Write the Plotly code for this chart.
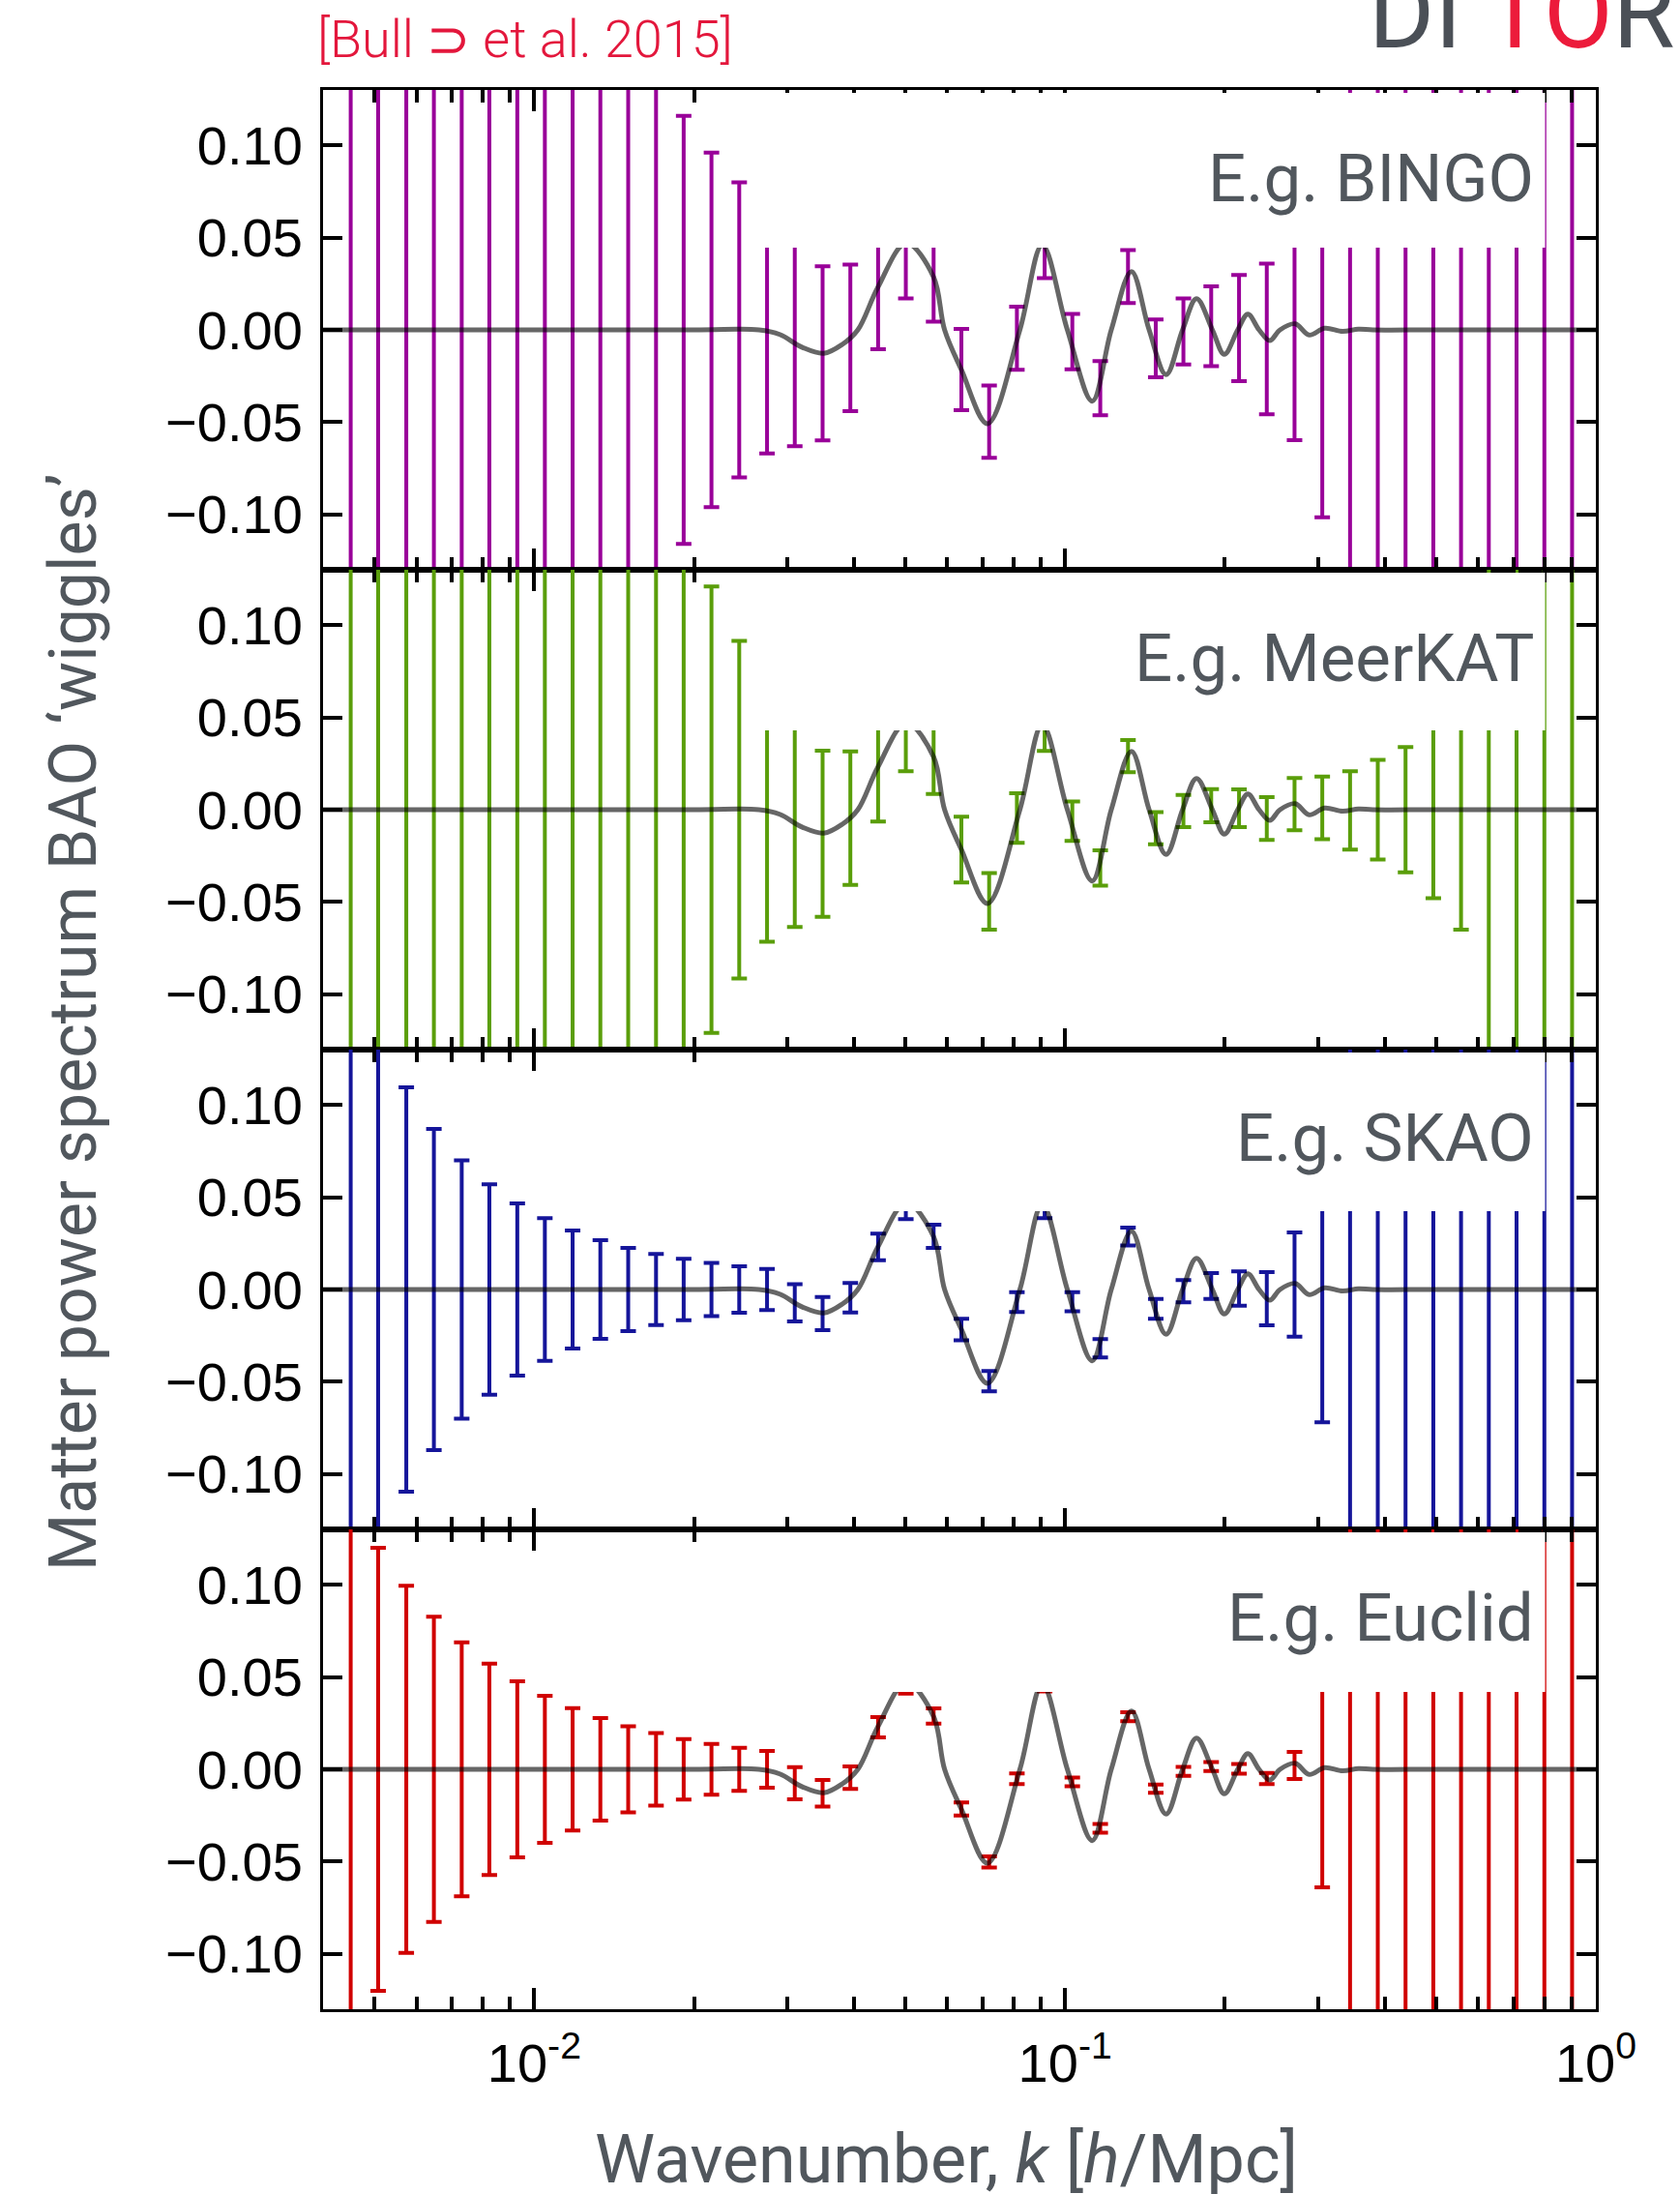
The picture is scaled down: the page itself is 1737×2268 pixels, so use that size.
import plotly.graph_objects as go
from plotly.subplots import make_subplots

# ---------------- data ----------------
K = [0.00451, 0.00508, 0.00574, 0.00647, 0.00730, 0.00823, 0.00929, 0.01047, 0.01181,
     0.01332, 0.01503, 0.01696, 0.01912, 0.02157, 0.02433, 0.02745, 0.03096, 0.03493,
     0.03940, 0.04444, 0.05012, 0.05654, 0.06378, 0.07194, 0.08115, 0.09153, 0.1032,
     0.1165, 0.1314, 0.1482, 0.1671, 0.1885, 0.2127, 0.2399, 0.2706, 0.3052, 0.3443,
     0.3883, 0.4380, 0.4941, 0.5572, 0.6285, 0.7089, 0.7998, 0.9020]

BINGO_Y = [0]*12 + [0, 0, 0, 0, -0.006, -0.0127, -0.0043, 0.0225, 0.044, 0.0288,
                    -0.0215, -0.0497, -0.0045, 0.044, -0.0063, -0.0316, 0.0289, -0.010,
                    -0.0008, 0.002, 0.001, -0.0049, 0.002, 0] + [0]*9
BINGO_ERR = [1]*12 + [0.116, 0.096, 0.080, 0.067, 0.057, 0.0472, 0.0397, 0.033, 0.027,
                      0.0243, 0.022, 0.0196, 0.0171, 0.016, 0.015, 0.0147, 0.0144, 0.0157,
                      0.0179, 0.0216, 0.0288, 0.0408, 0.0617, 0.1016] + [1]*9

MEERKAT_Y = [0]*13 + [0, 0, 0, -0.0065, -0.013, -0.0046, 0.0231, 0.044, 0.0288, -0.0216,
                      -0.0497, -0.0045, 0.044, -0.0062, -0.0316, 0.029, -0.010, -0.0007,
                      0.0022, 0.0008, -0.0048, 0.003, 0.001, -0.0004, 0, 0, 0, 0] + [0]*4
MEERKAT_ERR = [1]*13 + [0.121, 0.0915, 0.0716, 0.057, 0.045, 0.0362, 0.0295, 0.0232,
                        0.0203, 0.0178, 0.0153, 0.0134, 0.0121, 0.0107, 0.0096, 0.0087,
                        0.0087, 0.0087, 0.009, 0.0102, 0.0116, 0.0142, 0.017, 0.0212,
                        0.027, 0.034, 0.048, 0.065] + [1]*4

SKAO_Y = [0]*2 + [0]*14 + [-0.0072, -0.013, -0.0044, 0.0231, 0.0442, 0.0288, -0.0217,
                           -0.0497, -0.0068, 0.0442, -0.0066, -0.0318, 0.0287, -0.0105,
                           -0.0009, 0.0019, 0.0005, -0.005, 0.0027, 0] + [0]*9
SKAO_ERR = [1]*2 + [0.1095, 0.087, 0.070, 0.057, 0.0467, 0.0386, 0.032, 0.0267, 0.0225,
                    0.0192, 0.0166, 0.0144, 0.0126, 0.0112, 0.0101, 0.009, 0.008, 0.0072,
                    0.006, 0.0063, 0.0058, 0.0055, 0.0054, 0.0055, 0.0052, 0.005, 0.0048,
                    0.0054, 0.006, 0.007, 0.0093, 0.0144, 0.0282, 0.072] + [1]*9

EUCLID_Y = [0] + [0]*15 + [-0.0075, -0.013, -0.0045, 0.0228, 0.045, 0.0289, -0.0215,
                           -0.0502, -0.0051, 0.045, -0.0068, -0.032, 0.0285, -0.0105,
                           -0.0011, 0.0015, 0.0003, -0.005, 0.0021, 0] + [0]*9
EUCLID_ERR = [1] + [0.12, 0.0995, 0.0827, 0.0688, 0.0573, 0.0477, 0.0398, 0.0332, 0.0278,
                    0.0233, 0.0196, 0.0164, 0.0138, 0.0117, 0.0099, 0.0087, 0.0072, 0.0061,
                    0.0055, 0.004, 0.0041, 0.0035, 0.003, 0.0029, 0.0028, 0.0024, 0.0024,
                    0.0024, 0.0022, 0.0024, 0.0024, 0.0026, 0.003, 0.0073, 0.064] + [1]*9

CURVE_K = [0.004, 0.02, 0.0265, 0.0290, 0.0320, 0.0351, 0.0380, 0.0407, 0.0444, 0.0502,
           0.0565, 0.0593, 0.0638, 0.0714, 0.0822, 0.0906, 0.1010, 0.1125, 0.1222, 0.1334,
           0.1440, 0.1550, 0.1665, 0.1769, 0.1895, 0.1995, 0.2115, 0.2210, 0.2320, 0.2430,
           0.2541, 0.2714, 0.2884, 0.3083, 0.3333, 0.3570, 0.3800, 0.5, 1.0]
CURVE_Y = [0, 0, 0, -0.0025, -0.0095, -0.0127, -0.008, 0, 0.0231, 0.047,
           0.0288, 0, -0.0217, -0.0508, 0, 0.046, 0, -0.0386, 0, 0.0316,
           0, -0.0243, 0, 0.0169, 0, -0.0133, 0, 0.0085, 0, -0.0058,
           0, 0.0033, -0.0028, 0.0009, -0.0008, 0.0004, 0, 0, 0]

PANELS = ["E.g. BINGO", "E.g. MeerKAT", "E.g. SKAO", "E.g. Euclid"]
COLORS = ["#990099", "#5a9e0a", "#15159a", "#d00000"]
SERIES_Y = [BINGO_Y, MEERKAT_Y, SKAO_Y, EUCLID_Y]
SERIES_ERR = [BINGO_ERR, MEERKAT_ERR, SKAO_ERR, EUCLID_ERR]
BOX_BOTTOM = [0.0445, 0.043, 0.0425, 0.042]

Y_TICKS = [-0.10, -0.05, 0.0, 0.05, 0.10]
X_TICKS = [0.01, 0.1, 1.0]
X_TICKTEXT = ["10<sup>-2</sup>", "10<sup>-1</sup>", "10<sup>0</sup>"]
X_MINOR = [0.004, 0.005, 0.006, 0.007, 0.008, 0.009,
           0.02, 0.03, 0.04, 0.05, 0.06, 0.07, 0.08, 0.09,
           0.2, 0.3, 0.4, 0.5, 0.6, 0.7, 0.8, 0.9]

# ---------------- figure ----------------
W, H = 1737, 2268
ML, MR, MT, MB = 334, 87, 93, 191
PW = W - ML - MR
PH = H - MT - MB

def px_x(X):
    return (X - ML) / PW

def px_y(Y):
    return (H - MB - Y) / PH

fig = make_subplots(rows=4, cols=1, shared_xaxes=True, vertical_spacing=0)

TICKFONT = dict(family="Liberation Sans, Arial, sans-serif", size=56, color="black")
GREY = "#51575d"

for i in range(4):
    r = i + 1
    fig.add_trace(go.Scatter(
        x=K, y=SERIES_Y[i], mode="markers",
        marker=dict(size=1, opacity=0, color=COLORS[i]),
        error_y=dict(type="data", array=SERIES_ERR[i], visible=True,
                     color=COLORS[i], thickness=4, width=8),
        showlegend=False, hoverinfo="skip"), row=r, col=1)
    fig.add_trace(go.Scatter(
        x=CURVE_K, y=CURVE_Y, mode="lines",
        line=dict(color="rgba(0,0,0,0.6)", width=5, shape="spline", smoothing=1.0),
        showlegend=False, hoverinfo="skip"), row=r, col=1)

    sfx = "" if r == 1 else str(r)
    fig.add_shape(type="rect", xref=f"x{sfx} domain", yref=f"y{sfx}",
                  x0=px_x(780), x1=px_x(1597.5), y0=BOX_BOTTOM[i], y1=0.1284,
                  fillcolor="white", line=dict(width=0), layer="above")
    fig.add_annotation(text=PANELS[i], xref=f"x{sfx} domain", yref=f"y{sfx} domain",
                       x=px_x(1588), y=1 - 91 / 496, xanchor="right", yanchor="middle",
                       showarrow=False, font=dict(family="Roboto", size=69, color=GREY))

    fig.update_yaxes(row=r, col=1, range=[-0.13, 0.13], tickvals=Y_TICKS, tickformat=".2f",
                     ticks="inside", ticklen=20, tickwidth=4, tickcolor="black",
                     showline=True, linewidth=3, linecolor="black", mirror="allticks",
                     showgrid=False, zeroline=False, tickfont=TICKFONT,
                     ticklabelstandoff=7)
    fig.update_xaxes(row=r, col=1, type="log", range=[-2.39794, 0],
                     tickvals=X_TICKS, ticktext=X_TICKTEXT,
                     ticks="inside", ticklen=22, tickwidth=3.5, tickcolor="black",
                     minor=dict(tickvals=X_MINOR, ticks="inside", ticklen=13,
                                tickwidth=3.5, tickcolor="black"),
                     showline=True, linewidth=2.5, linecolor="black", mirror="allticks",
                     showgrid=False, zeroline=False, tickfont=TICKFONT,
                     showticklabels=(r == 4), ticklabelstandoff=5)

# axis titles as annotations
fig.add_annotation(text="Wavenumber, <i>k</i> [<i>h</i>/Mpc]", xref="paper", yref="paper",
                   x=px_x(978), y=px_y(2232), xanchor="center", yanchor="middle",
                   showarrow=False, font=dict(family="Roboto", size=70, color=GREY))
fig.add_annotation(text="Matter power spectrum BAO \u2018wiggles\u2019", xref="paper", yref="paper",
                   x=px_x(76), y=px_y(1057), xanchor="center", yanchor="middle", textangle=-90,
                   showarrow=False, font=dict(family="Roboto", size=68, color=GREY))

# citation and logo
fig.add_annotation(text="[Bull \u2283 et al. 2015]", xref="paper", yref="paper",
                   x=px_x(326), y=px_y(40), xanchor="left", yanchor="middle",
                   showarrow=False,
                   font=dict(family="Roboto", size=54, color="#e3173c", weight=300))
fig.add_annotation(text="DI <span style='color:#ec1b3b'>TO</span>RINO", xref="paper", yref="paper",
                   x=px_x(1413), y=px_y(76), xanchor="left", yanchor="bottom",
                   showarrow=False,
                   font=dict(family="Roboto", size=104, color="#4b5057"))

fig.update_layout(width=W, height=H, margin=dict(l=ML, r=MR, t=MT, b=MB),
                  paper_bgcolor="white", plot_bgcolor="white", showlegend=False)

fig.write_html("out.html")
